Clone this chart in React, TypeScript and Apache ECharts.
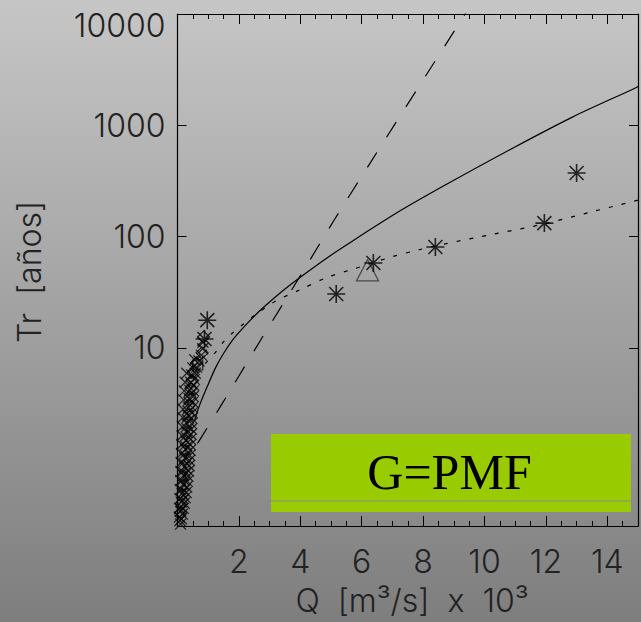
import React, { useEffect, useRef } from 'react';
import * as echarts from 'echarts';

// Solid curve (Q x10^3 m3/s, Tr years)
const SOLID_Q = [0.56, 0.72, 0.976, 1.25, 1.52, 1.78, 2.1, 2.43, 2.85, 3.44, 4.02, 5.01, 6.0, 7.12, 8.72, 10.96, 12.88, 14.83, 15.0];
const SOLID_T = [2.24, 3.05, 4.53, 6.7, 9.06, 11.6, 14.7, 18.4, 23.7, 32.7, 43.5, 68.3, 103, 162, 290, 631, 1190, 2110, 2230];

// Dashed curve
const DASHED_Q = [0.65, 0.72, 1.36, 2.69, 4.03, 5.14, 6.32, 9.04, 9.5];
const DASHED_T = [1.38, 1.48, 2.85, 11.5, 45.7, 146, 479, 7200, 11400];

// Dotted curve
const DOTTED_Q = [0.9, 1.25, 1.46, 1.78, 2.11, 2.53, 3.17, 4.02, 4.88, 5.73, 7.01, 7.87, 8.72, 10.3, 11.9, 13.5, 15.0];
const DOTTED_T = [7.2, 9.2, 11, 13.5, 16, 19.7, 26, 33.5, 43, 51, 66, 76, 86, 105, 129, 167, 212];

// Asterisk points
const STAR_Q = [0.97, 0.88, 5.17, 6.38, 8.4, 11.95, 13.0];
const STAR_T = [17.7, 12.0, 30.4, 57.8, 80.5, 132, 372];

// Triangle point
const TRI_Q = [6.19];
const TRI_T = [49.7];

// Cluster near the axis: crosses (right part)
const CROSS_A_Q = [0.1, 0.13, 0.16, 0.19, 0.22, 0.25, 0.28, 0.3, 0.32, 0.34, 0.36, 0.38, 0.39, 0.4, 0.41, 0.42, 0.43, 0.44, 0.45, 0.46, 0.47, 0.48, 0.49, 0.5, 0.51, 0.52, 0.53, 0.55, 0.58, 0.62, 0.7, 0.78, 0.82, 0.83];
const CROSS_A_T = [0.26, 0.29, 0.32, 0.36, 0.4, 0.45, 0.5, 0.56, 0.63, 0.7, 0.78, 0.87, 0.97, 1.08, 1.2, 1.34, 1.5, 1.67, 1.86, 2.08, 2.32, 2.6, 2.9, 3.25, 3.65, 4.1, 4.6, 5.2, 5.9, 6.7, 7.6, 8.6, 9.8, 11.2];

// crosses (left part)
const CROSS_B_Q = [0.06, 0.07, 0.08, 0.09, 0.1, 0.11, 0.12, 0.13, 0.14, 0.15, 0.16, 0.17, 0.18, 0.2, 0.22, 0.25, 0.3];
const CROSS_B_T = [0.3, 0.36, 0.44, 0.53, 0.64, 0.77, 0.93, 1.12, 1.35, 1.62, 1.95, 2.35, 2.8, 3.4, 4.1, 4.9, 5.9];

// crosses (middle)
const CROSS_C_Q = [0.08, 0.1, 0.12, 0.15, 0.18, 0.2, 0.22, 0.24, 0.26, 0.28, 0.3, 0.32, 0.34, 0.36, 0.38, 0.4, 0.43, 0.46, 0.5, 0.56];
const CROSS_C_T = [0.28, 0.34, 0.41, 0.49, 0.59, 0.71, 0.85, 1.02, 1.22, 1.46, 1.74, 2.07, 2.46, 2.93, 3.5, 4.15, 4.9, 5.7, 6.6, 7.8];

// diamonds
const DIAMOND_Q = [0.1, 0.13, 0.16, 0.19, 0.21, 0.23, 0.25, 0.27, 0.29, 0.31, 0.33, 0.35, 0.37, 0.4, 0.43, 0.47, 0.52, 0.62, 0.8, 0.85];
const DIAMOND_T = [0.33, 0.4, 0.48, 0.58, 0.7, 0.84, 1.0, 1.2, 1.45, 1.75, 2.1, 2.5, 3.0, 3.6, 4.3, 5.1, 6.1, 7.3, 9.0, 12.5];

// square
const SQUARE_Q = [0.66];
const SQUARE_T = [7.0];

const Y_TICK_EXP = [1, 2, 3, 4];

const zip = (a: number[], b: number[]) => a.map((v, i) => [v, b[i]]);

const FONT = "Inter, 'DejaVu Sans', sans-serif";
const TEXT_COLOR = '#222';

const STAR = 'path://M0,-9L0,9M-9,0L9,0M-7,-7L7,7M-7,7L7,-7';
const XCROSS = 'path://M-5,-5L5,5M-5,5L5,-5';
const DIAMOND = 'path://M0,-5L5,0L0,5L-5,0Z';
const SQUARE = 'path://M-5,-5L5,-5L5,5L-5,5Z';
const TRIANGLE = 'path://M0,-10L11,10L-11,10Z';

export default function App() {
  const ref = useRef<HTMLDivElement>(null);
  useEffect(() => {
    if (!ref.current) return;
    const chart = echarts.init(ref.current, undefined, { renderer: 'svg' });
    const axisLine = { show: true, onZero: false, lineStyle: { color: '#000', width: 1.2 } };
    const labelStyle = { fontFamily: FONT, fontSize: 32, fontWeight: 300 as any, color: TEXT_COLOR };
    const markerStyle = (w = 1) => ({ color: 'none', borderColor: '#000', borderWidth: w });
    const xAxisBase = {
      type: 'value',
      min: 0,
      max: 15,
      interval: 2,
      axisLine,
      splitLine: { show: false },
      axisTick: { show: true, inside: true, length: 10, lineStyle: { color: '#000', width: 1 } },
      minorTick: { show: true, splitNumber: 4, length: 5, lineStyle: { color: '#000', width: 1 } },
      minorSplitLine: { show: false },
    };
    const lineBase = { type: 'line', yAxisIndex: 2, showSymbol: false, smooth: 0.3, clip: true };
    const option: any = {
      animation: false,
      backgroundColor: 'transparent',
      grid: { left: 177.5, right: -5.25, top: 14, bottom: 96, containLabel: false },
      xAxis: [
        {
          ...xAxisBase,
          position: 'bottom',
          axisLabel: {
            ...labelStyle,
            margin: 19,
            formatter: (v: number) => (v === 0 || v === 15 ? '' : String(v)),
          },
        },
        { ...xAxisBase, position: 'top', axisLabel: { show: false } },
      ],
      yAxis: [
        {
          type: 'value',
          min: Math.log10(0.25),
          max: 4,
          position: 'left',
          axisLine,
          splitLine: { show: false },
          axisTick: { show: true, inside: true, length: 9, customValues: Y_TICK_EXP, lineStyle: { color: '#000' } },
          axisLabel: {
            ...labelStyle,
            margin: 12,
            customValues: Y_TICK_EXP,
            formatter: (v: number) => {
              const s = String(Math.round(Math.pow(10, v)));
              return v >= 4 ? '{t|' + s + '}' : s;
            },
            rich: { t: { ...labelStyle, padding: [22, 0, 0, 0] } },
          },
        },
        {
          type: 'value',
          min: Math.log10(0.25),
          max: 4,
          position: 'right',
          axisLine,
          splitLine: { show: false },
          axisTick: { show: true, inside: true, length: 9, customValues: Y_TICK_EXP, lineStyle: { color: '#000' } },
          axisLabel: { show: false },
        },
        {
          type: 'log',
          logBase: 10,
          min: 0.25,
          max: 10000,
          show: false,
          position: 'left',
        },
      ],
      series: [
        { ...lineBase, data: zip(SOLID_Q, SOLID_T), lineStyle: { color: '#000', width: 1.2, type: 'solid' } },
        { ...lineBase, data: zip(DASHED_Q, DASHED_T), lineStyle: { color: '#000', width: 1.2, type: [18, 18] } },
        { ...lineBase, data: zip(DOTTED_Q, DOTTED_T), lineStyle: { color: '#000', width: 1.2, type: [4, 9] } },
        { type: 'scatter', yAxisIndex: 2, data: zip(CROSS_B_Q, CROSS_B_T), symbol: XCROSS, symbolSize: 11, itemStyle: markerStyle(1.2) },
        { type: 'scatter', yAxisIndex: 2, data: zip(CROSS_C_Q, CROSS_C_T), symbol: XCROSS, symbolSize: 11, itemStyle: markerStyle(1.2) },
        { type: 'scatter', yAxisIndex: 2, data: zip(DIAMOND_Q, DIAMOND_T), symbol: DIAMOND, symbolSize: 12, itemStyle: markerStyle(1.2) },
        { type: 'scatter', yAxisIndex: 2, data: zip(CROSS_A_Q, CROSS_A_T), symbol: XCROSS, symbolSize: 11, itemStyle: markerStyle(1.2) },
        { type: 'scatter', yAxisIndex: 2, data: zip(SQUARE_Q, SQUARE_T), symbol: SQUARE, symbolSize: 10, itemStyle: markerStyle(1.2) },
        { type: 'scatter', yAxisIndex: 2, data: zip(TRI_Q, TRI_T), symbol: TRIANGLE, symbolSize: [22, 21], symbolKeepAspect: false, itemStyle: { color: 'none', borderColor: '#333', borderWidth: 1.3 } },
        { type: 'scatter', yAxisIndex: 2, data: zip(STAR_Q, STAR_T), symbol: STAR, symbolSize: 18, itemStyle: markerStyle(1.6) },
      ],
      graphic: [
        {
          type: 'rect', left: 271, top: 434, z: 100,
          shape: { width: 360, height: 78 },
          style: { fill: '#99cc00' },
        },
        {
          type: 'line', z: 101,
          shape: { x1: 271, y1: 501, x2: 631, y2: 501 },
          style: { stroke: '#8a8a8a', lineWidth: 1 },
        },
        {
          type: 'text', x: 449.5, y: 472, z: 102,
          style: { text: 'G=PMF', font: "50px 'Liberation Serif', 'Times New Roman', serif", fill: '#000', textAlign: 'center', textVerticalAlign: 'middle' },
        },
        {
          type: 'text', x: 412, y: 600, z: 102,
          style: { text: 'Q  [m³/s]  x  10³', font: "300 32px Inter, 'DejaVu Sans', sans-serif", fill: TEXT_COLOR, textAlign: 'center', textVerticalAlign: 'middle' },
        },
        {
          type: 'text', x: 29, y: 272, z: 102, rotation: Math.PI / 2,
          style: { text: 'Tr  [años]', font: "300 32px Inter, 'DejaVu Sans', sans-serif", fill: TEXT_COLOR, textAlign: 'center', textVerticalAlign: 'middle' },
        },
      ],
    };
    chart.setOption(option);
    return () => chart.dispose();
  }, []);
  return (
    <div
      ref={ref}
      style={{
        position: 'fixed', left: 0, top: 0, width: 641, height: 622,
        background: 'linear-gradient(#c6c6c6, #7e7e7e)',
      }}
    />
  );
}
